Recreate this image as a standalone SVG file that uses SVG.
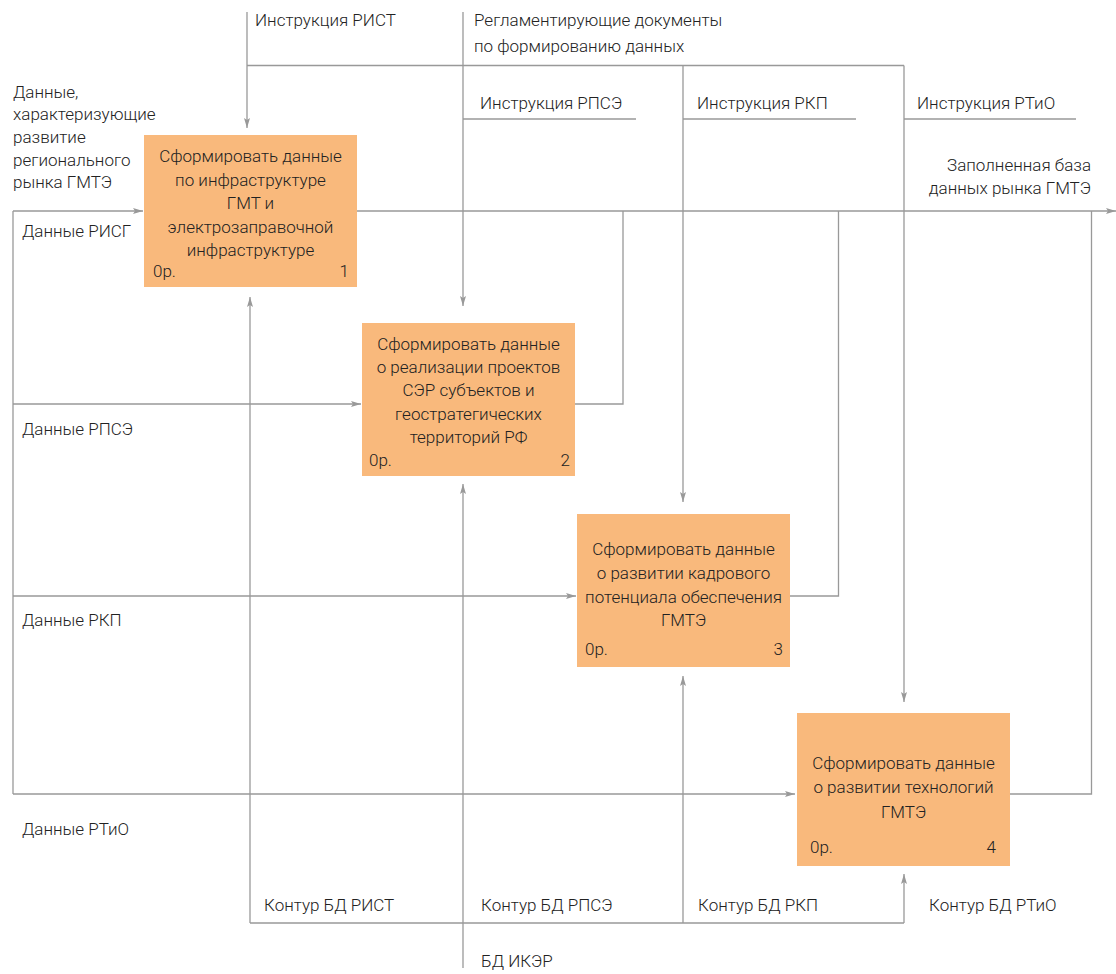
<svg xmlns="http://www.w3.org/2000/svg" width="1116" height="974" viewBox="0 0 1116 974">
  <style>
    text { font-family: Roboto, "Liberation Sans", sans-serif; font-weight: 300; font-size: 17px; fill: #222; }
    .c { text-anchor: middle; }
    .r { text-anchor: end; }
    .box { fill: #F9B97C; }
    .ln { fill: none; stroke: #999; stroke-width: 1.3; }
    .ar { marker-end: url(#arrow); }
  </style>
  <defs>
    <marker id="arrow" markerUnits="userSpaceOnUse" markerWidth="12" markerHeight="8" refX="10" refY="4" orient="auto">
      <path d="M0,1 L10,4 L0,7 L2,4 Z" fill="#999"/>
    </marker>
  </defs>

  <rect width="1116" height="974" fill="#fff"/>

  <!-- connectors -->
  <g id="connectors">
    <!-- controls from above -->
    <path class="ln ar" d="M247,12 V128"/>
    <path class="ln" d="M247,65.5 H904"/>
    <path class="ln ar" d="M463,12 V306"/>
    <path class="ln ar" d="M683,65.5 V502"/>
    <path class="ln ar" d="M904,65.5 V702"/>
    <path class="ln" d="M463,119 H636"/>
    <path class="ln" d="M683,119 H856"/>
    <path class="ln" d="M904,119 H1076"/>

    <!-- inputs from the left -->
    <path class="ln" d="M13,211 V794"/>
    <path class="ln ar" d="M13,211 H143"/>
    <path class="ln ar" d="M13,404 H361"/>
    <path class="ln ar" d="M13,596 H576"/>
    <path class="ln ar" d="M13,794 H795"/>

    <!-- outputs -->
    <path class="ln ar" d="M357,211 H1116"/>
    <path class="ln" d="M575,404 H623 V211"/>
    <path class="ln" d="M790,596 H838.5 V211"/>
    <path class="ln" d="M1010,794 H1091.5 V211"/>

    <!-- mechanisms from below -->
    <path class="ln" d="M250,923 H904"/>
    <path class="ln ar" d="M250,923 V297"/>
    <path class="ln ar" d="M463,968 V484"/>
    <path class="ln ar" d="M683,923 V676"/>
    <path class="ln ar" d="M904,923 V874"/>
  </g>

  <!-- arrow labels -->
  <g id="labels">
    <text x="255" y="26">Инструкция РИСТ</text>
    <text x="474" y="26">Регламентирующие документы</text>
    <text x="474" y="52">по формированию данных</text>
    <text x="480" y="109">Инструкция РПСЭ</text>
    <text x="697" y="109">Инструкция РКП</text>
    <text x="917" y="109">Инструкция РТиО</text>

    <text x="13" y="98">Данные,</text>
    <text x="13" y="120">характеризующие</text>
    <text x="13" y="143">развитие</text>
    <text x="13" y="166">регионального</text>
    <text x="13" y="188">рынка ГМТЭ</text>
    <text x="22" y="237">Данные РИСГ</text>
    <text x="22" y="435">Данные РПСЭ</text>
    <text x="22" y="626">Данные РКП</text>
    <text x="22" y="835">Данные РТиО</text>

    <text class="r" x="1091" y="171">Заполненная база</text>
    <text class="r" x="1091" y="194">данных рынка ГМТЭ</text>

    <text x="264" y="911">Контур БД РИСТ</text>
    <text x="481" y="911">Контур БД РПСЭ</text>
    <text x="698" y="911">Контур БД РКП</text>
    <text x="929" y="911">Контур БД РТиО</text>
    <text x="481" y="967">БД ИКЭР</text>
  </g>

  <!-- activity boxes -->
  <g id="node1">
    <rect class="box" x="144" y="135" width="213" height="152"/>
    <text class="c" x="250.5" y="162">Сформировать данные</text>
    <text class="c" x="250.5" y="186">по инфраструктуре</text>
    <text class="c" x="250.5" y="209">ГМТ и</text>
    <text class="c" x="250.5" y="233">электрозаправочной</text>
    <text class="c" x="250.5" y="256">инфраструктуре</text>
    <text x="153" y="277">0р.</text>
    <text class="r" x="349" y="277">1</text>
  </g>

  <g id="node2">
    <rect class="box" x="362" y="323" width="213" height="153"/>
    <text class="c" x="468.5" y="350">Сформировать данные</text>
    <text class="c" x="468.5" y="373">о реализации проектов</text>
    <text class="c" x="468.5" y="396">СЭР субъектов и</text>
    <text class="c" x="468.5" y="420">геостратегических</text>
    <text class="c" x="468.5" y="443">территорий РФ</text>
    <text x="369" y="466">0р.</text>
    <text class="r" x="570" y="466">2</text>
  </g>

  <g id="node3">
    <rect class="box" x="577" y="514" width="213" height="153"/>
    <text class="c" x="683.5" y="555">Сформировать данные</text>
    <text class="c" x="683.5" y="579">о развитии кадрового</text>
    <text class="c" x="683.5" y="603">потенциала обеспечения</text>
    <text class="c" x="683.5" y="626">ГМТЭ</text>
    <text x="585" y="655">0р.</text>
    <text class="r" x="783" y="655">3</text>
  </g>

  <g id="node4">
    <rect class="box" x="797" y="713" width="213" height="153"/>
    <text class="c" x="903.5" y="769">Сформировать данные</text>
    <text class="c" x="903.5" y="793">о развитии технологий</text>
    <text class="c" x="903.5" y="818">ГМТЭ</text>
    <text x="810" y="853">0р.</text>
    <text class="r" x="996" y="853">4</text>
  </g>
</svg>
